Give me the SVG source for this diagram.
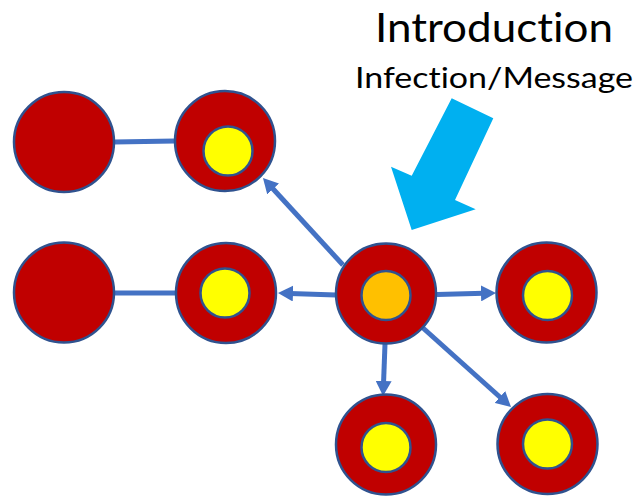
<svg xmlns="http://www.w3.org/2000/svg" width="639" height="496" viewBox="0 0 639 496">
  <style>
    .outer { fill: #C00000; stroke: #2F528F; stroke-width: 2.5; }
    .inner { fill: #FFFF00; stroke: #2F528F; stroke-width: 2.5; }
    .source { fill: #FFC000; stroke: #2F528F; stroke-width: 2.5; }
    .link { stroke: #4472C4; stroke-width: 5; fill: none; }
    .arrow { stroke: #4472C4; stroke-width: 5; fill: none; marker-end: url(#head); }
    .title { font-family: Lato, "Open Sans", sans-serif; fill: #000; font-variant-ligatures: none; }
  </style>
  <defs>
    <marker id="head" markerUnits="userSpaceOnUse" markerWidth="15" markerHeight="16" refX="3" refY="8" orient="auto">
      <path d="M0,0 L15,8 L0,16 z" fill="#4472C4"/>
    </marker>
  </defs>
  <rect width="639" height="496" fill="#FFFFFF"/>

  <!-- heading -->
  <text class="title" x="375" y="42" font-size="41" textLength="238" lengthAdjust="spacingAndGlyphs">Introduction</text>
  <text class="title" x="355" y="88" font-size="29" textLength="278" lengthAdjust="spacingAndGlyphs">Infection/Message</text>

  <!-- entry arrow -->
  <polygon points="451.7,98.3 493.3,118.3 455,200 475.7,209.3 411.7,230 391,166.7 411.7,175.7" fill="#00B0F0"/>

  <!-- connectors -->
  <g id="connectors">
    <line class="link" x1="114" y1="142" x2="175" y2="141"/>
    <line class="link" x1="114" y1="293" x2="176" y2="293"/>
    <line class="arrow" x1="437" y1="294.5" x2="484" y2="293.3"/>
    <line class="arrow" x1="385" y1="344" x2="383.5" y2="384"/>
    <line class="arrow" x1="423" y1="328" x2="502.1" y2="399"/>
    <line class="arrow" x1="336" y1="295" x2="290" y2="293.4"/>
    <line class="arrow" x1="343" y1="265" x2="271.1" y2="186.8"/>
  </g>

  <!-- nodes -->
  <g id="node-a"><circle class="outer" cx="64" cy="142" r="50"/></g>
  <g id="node-b"><circle class="outer" cx="225" cy="141" r="50"/><circle class="inner" cx="228" cy="151" r="24.5"/></g>
  <g id="node-c"><circle class="outer" cx="64" cy="292.5" r="50"/></g>
  <g id="node-d"><circle class="outer" cx="226" cy="293" r="50"/><circle class="inner" cx="225" cy="293" r="24.5"/></g>
  <g id="node-e"><circle class="outer" cx="386" cy="293.5" r="50"/><circle class="source" cx="386" cy="295.5" r="24.5"/></g>
  <g id="node-f"><circle class="outer" cx="546.5" cy="292.5" r="50"/><circle class="inner" cx="547.5" cy="295.5" r="24.5"/></g>
  <g id="node-g"><circle class="outer" cx="386" cy="444.5" r="50"/><circle class="inner" cx="386" cy="447.5" r="24.5"/></g>
  <g id="node-h"><circle class="outer" cx="547.5" cy="444" r="50"/><circle class="inner" cx="547.5" cy="444" r="24.5"/></g>
</svg>
